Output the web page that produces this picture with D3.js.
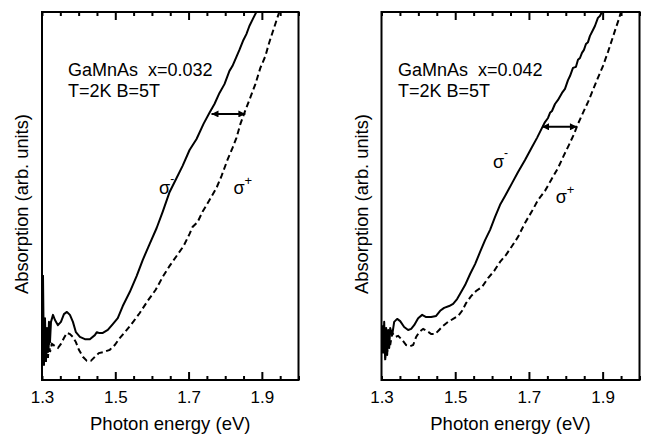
<!DOCTYPE html>
<html><head><meta charset="utf-8">
<script src="https://cdn.jsdelivr.net/npm/d3@7"></script>
<style>
html,body{margin:0;padding:0;background:#fff;}
text{font-family:"Liberation Sans",Arial,Helvetica,sans-serif;fill:#000;}
</style></head>
<body>
<svg id="chart" width="649" height="434"></svg>
<script>
// ---- data (photon energy eV, absorption arb. units) ----
const xTickLabels = [1.3, 1.5, 1.7, 1.9];
const panelTitles = ["GaMnAs\u00A0\u00A0x=0.032", "GaMnAs\u00A0\u00A0x=0.042"];
const panelSubtitle = "T=2K B=5T";
const xAxisTitle = "Photon energy (eV)";
const yAxisTitle = "Absorption (arb. units)";

const leftSigmaMinus = [
[1.3027,28.5],[1.3054,4.1],[1.3082,16.8],[1.3109,5.4],[1.3136,14.1],[1.3163,7.6],[1.3190,15.8],[1.3218,10.3],
[1.3245,15.8],[1.330,17.7],[1.3354,16.3],[1.3435,14.9],[1.3517,15.8],[1.3599,17.9],[1.368,18.5],[1.3762,17.7],
[1.3844,15.8],[1.3925,13.0],[1.4034,11.7],[1.417,11.1],[1.4306,11.1],[1.4442,12.2],[1.4497,13.0],[1.4551,12.8],
[1.466,12.8],[1.4796,13.6],[1.4932,15.2],[1.5068,16.8],[1.5204,20.1],[1.5395,23.9],[1.5585,28.3],[1.5748,32.6],
[1.5939,37.0],[1.6129,41.3],[1.6293,45.7],[1.6483,51.1],[1.6673,54.9],[1.6837,58.2],[1.7027,62.5],[1.7218,65.5],
[1.7408,69.6],[1.7571,72.6],[1.7707,75.0],[1.7844,78.0],[1.798,80.4],[1.8116,84.0],[1.8197,85.3],[1.8306,87.8],
[1.8388,89.7],[1.8497,92.4],[1.8578,94.0],[1.866,96.2],[1.8769,98.4],[1.885,100]
];
const leftSigmaPlus = [
[1.3027,10.9],[1.3054,4.1],[1.3082,12.2],[1.3109,4.9],[1.3136,11.4],[1.3163,6.0],[1.3190,10.9],[1.3218,7.6],
[1.3272,9.8],[1.3354,9.2],[1.3435,8.7],[1.3517,9.8],[1.3599,11.4],[1.368,12.8],[1.3762,12.5],[1.3844,11.7],
[1.3925,10.3],[1.4007,8.2],[1.4116,6.3],[1.4224,5.2],[1.4333,5.2],[1.4442,6.3],[1.4551,7.3],[1.4687,7.6],
[1.4850,8.2],[1.4986,9.5],[1.5122,11.4],[1.5313,13.6],[1.5503,16.0],[1.5667,18.2],[1.5884,21.5],[1.6102,24.5],
[1.6293,28.0],[1.6483,31.0],[1.6673,33.7],[1.6864,36.4],[1.7027,39.7],[1.7109,41.6],[1.7245,42.9],[1.7381,45.7],
[1.7571,48.9],[1.7762,52.2],[1.7898,55.4],[1.8061,59.8],[1.8197,63.0],[1.8306,65.8],[1.8415,69.6],[1.8524,72.6],
[1.866,76.1],[1.8823,80.4],[1.8959,84.8],[1.9095,88.0],[1.9204,91.8],[1.9313,95.1],[1.9422,98.4],[1.9476,100]
];
const rightSigmaMinus = [
[1.3019,14.9],[1.3046,7.6],[1.3073,15.8],[1.3100,6.0],[1.3127,14.1],[1.3154,6.8],[1.3182,13.6],[1.3209,8.7],
[1.3236,14.1],[1.3290,12.2],[1.3344,15.8],[1.3425,16.6],[1.3507,16.0],[1.3615,14.4],[1.3723,13.6],[1.3805,13.9],
[1.3886,14.9],[1.3994,16.8],[1.4103,17.7],[1.4211,17.1],[1.4347,17.1],[1.4482,17.4],[1.4591,18.8],[1.4699,19.6],
[1.4835,20.1],[1.4943,20.7],[1.5051,22.0],[1.5160,23.9],[1.5268,25.8],[1.5404,28.8],[1.5539,31.5],[1.5675,34.8],
[1.5810,38.0],[1.5946,40.8],[1.6081,44.3],[1.6217,47.6],[1.6352,50.0],[1.6542,53.5],[1.6705,56.5],[1.6894,59.8],
[1.7084,63.3],[1.7220,65.8],[1.7355,68.5],[1.7436,70.1],[1.7518,71.2],[1.7572,72.6],[1.7626,73.1],[1.7707,75.0],
[1.7789,76.1],[1.7897,78.0],[1.7978,79.1],[1.8060,81.5],[1.8114,82.6],[1.8195,84.8],[1.8276,85.1],[1.8331,87.0],
[1.8385,87.5],[1.8439,88.9],[1.8493,89.7],[1.8547,91.3],[1.8602,91.8],[1.8656,93.5],[1.8737,95.1],[1.8791,96.2],
[1.8872,98.4],[1.8926,98.9],[1.8981,100]
];
const rightSigmaPlus = [
[1.3019,11.4],[1.3046,6.8],[1.3073,13.0],[1.3100,5.4],[1.3127,12.0],[1.3154,7.6],[1.3182,12.0],[1.3236,9.5],
[1.3290,12.8],[1.3371,11.7],[1.3452,12.0],[1.3561,10.9],[1.3669,9.5],[1.3778,9.2],[1.3859,9.5],[1.3940,11.7],
[1.4022,13.0],[1.4130,13.9],[1.4238,13.3],[1.4347,12.5],[1.4455,12.5],[1.4564,13.6],[1.4672,14.7],[1.4808,15.8],
[1.4943,16.6],[1.5079,17.4],[1.5187,18.8],[1.5295,20.9],[1.5431,22.8],[1.5566,24.2],[1.5729,25.3],[1.5891,27.7],
[1.6054,29.6],[1.6217,32.1],[1.6379,34.0],[1.6542,36.4],[1.6705,38.9],[1.6894,42.7],[1.7084,45.9],[1.7247,48.9],
[1.7436,51.4],[1.7599,54.3],[1.7789,57.6],[1.7951,61.1],[1.8087,63.9],[1.8222,66.8],[1.8331,69.6],[1.8466,72.6],
[1.8602,75.5],[1.8737,78.8],[1.8872,82.1],[1.9008,85.3],[1.9143,89.1],[1.9252,92.4],[1.9360,95.7],[1.9442,98.1],
[1.9496,100]
];
// splitting arrows (energy from, energy to, absorption level)
const leftArrow = [1.7626, 1.855, 72.3];
const rightArrow = [1.7355, 1.8303, 68.8];
// sigma label positions [energy, absorption]
const leftLabels = {minus:[1.6195, 50.5], plus:[1.8224, 50.5]};
const rightLabels = {minus:[1.6025, 57.6], plus:[1.7725, 48.1]};

// ---- drawing ----
const svg = d3.select("#chart");
const defs = svg.append("defs");
["L","R"].forEach(k=>{
  defs.append("marker").attr("id","ah"+k).attr("viewBox","0 0 10 10").attr("refX",10).attr("refY",5)
    .attr("markerWidth",10).attr("markerHeight",7).attr("markerUnits","userSpaceOnUse").attr("orient","auto-start-reverse")
    .append("path").attr("d","M0,0 L10,5 L0,10 z").attr("fill","#000");
});

const panels = [
  {x0:42, x1:298.5, minus:leftSigmaMinus, plus:leftSigmaPlus, title:panelTitles[0], arrow:leftArrow, labels:leftLabels, tx:68},
  {x0:381.5, x1:639.5, minus:rightSigmaMinus, plus:rightSigmaPlus, title:panelTitles[1], arrow:rightArrow, labels:rightLabels, tx:398}
];
const plotTop = 12, plotBottom = 380;

panels.forEach((p,i)=>{
  const x = d3.scaleLinear().domain([1.3, 2.0]).range([p.x0, p.x1]);
  const y = d3.scaleLinear().domain([0, 100]).range([plotBottom, plotTop]);
  const g = svg.append("g");

  const cid = "clip"+i;
  defs.append("clipPath").attr("id",cid).append("rect")
    .attr("x",p.x0).attr("y",plotTop).attr("width",p.x1-p.x0).attr("height",plotBottom-plotTop);

  const line = d3.line().x(d=>x(d[0])).y(d=>y(d[1])).curve(d3.curveLinear);
  g.append("path").datum(p.minus).attr("d",line).attr("clip-path",`url(#${cid})`)
    .attr("fill","none").attr("stroke","#000").attr("stroke-width",2).attr("stroke-linejoin","round");
  g.append("path").datum(p.plus).attr("d",line).attr("clip-path",`url(#${cid})`)
    .attr("fill","none").attr("stroke","#000").attr("stroke-width",2).attr("stroke-dasharray","6,3.5");

  // ticks (inward) bottom and top
  const minor = d3.range(1.3, 2.0001, 0.05).map(v=>+v.toFixed(2));
  const isMajor = d => xTickLabels.some(v=>Math.abs(v-d)<1e-6) && Math.abs(d-1.3)>1e-6;
  const bAxis = d3.axisBottom(x).tickValues(minor).tickSize(0).tickFormat("");
  const tAxis = d3.axisTop(x).tickValues(minor).tickSize(0).tickFormat("");
  const bg = g.append("g").attr("transform",`translate(0,${plotBottom})`).call(bAxis);
  const tg = g.append("g").attr("transform",`translate(0,${plotTop})`).call(tAxis);
  bg.select(".domain").remove(); tg.select(".domain").remove();
  bg.selectAll(".tick line").attr("stroke","#000").attr("stroke-width",2).attr("y2",d=>isMajor(d)?-8:-4);
  tg.selectAll(".tick line").attr("stroke","#000").attr("stroke-width",2).attr("y2",d=>isMajor(d)?8:4);

  // major tick labels
  const lAxis = d3.axisBottom(x).tickValues(xTickLabels).tickSize(0).tickFormat(d3.format(".1f"));
  const lg = g.append("g").attr("transform",`translate(0,${plotBottom})`).call(lAxis);
  lg.select(".domain").remove();
  lg.selectAll("text").attr("font-size",17).attr("dy",0).attr("y",23).attr("fill","#000")
    .style("font-family",'"Liberation Sans",Arial,sans-serif');

  // frame
  g.append("rect").attr("x",p.x0).attr("y",plotTop).attr("width",p.x1-p.x0).attr("height",plotBottom-plotTop)
    .attr("fill","none").attr("stroke","#000").attr("stroke-width",2);

  // axis titles
  g.append("text").attr("x",(p.x0+p.x1)/2).attr("y",429.5).attr("text-anchor","middle")
    .attr("font-size",18.5).text(xAxisTitle);
  g.append("text").attr("transform",`translate(${p.x0-14},204) rotate(-90)`).attr("text-anchor","middle")
    .attr("font-size",18.3).text(yAxisTitle);

  // annotations
  g.append("text").attr("x",p.tx).attr("y",76).attr("font-size",18).text(p.title);
  g.append("text").attr("x",p.tx).attr("y",97).attr("font-size",18).text(panelSubtitle);

  // arrow
  g.append("line").attr("x1",x(p.arrow[0])).attr("x2",x(p.arrow[1])).attr("y1",y(p.arrow[2])).attr("y2",y(p.arrow[2]))
    .attr("stroke","#000").attr("stroke-width",2)
    .attr("marker-start","url(#ahL)").attr("marker-end","url(#ahR)");

  // sigma labels
  const sm = g.append("text").attr("x",x(p.labels.minus[0])).attr("y",y(p.labels.minus[1])).attr("font-size",18);
  sm.append("tspan").text("σ");
  sm.append("tspan").attr("dy",-11).attr("font-size",12).text("-");
  const sp = g.append("text").attr("x",x(p.labels.plus[0])).attr("y",y(p.labels.plus[1])).attr("font-size",18);
  sp.append("tspan").text("σ");
  sp.append("tspan").attr("dy",-9).attr("font-size",13).text("+");
});
</script>
</body></html>
